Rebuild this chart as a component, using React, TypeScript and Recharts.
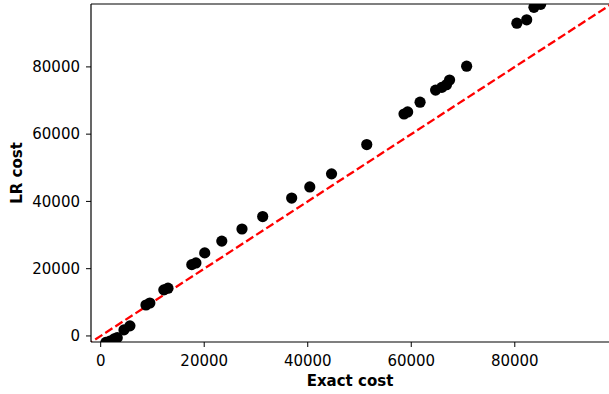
import React from 'react';
import {
  ScatterChart,
  Scatter,
  XAxis,
  YAxis,
  ReferenceLine,
} from 'recharts';

// Exact cost vs LR cost
const exactCost = [
  1000, 1800, 2600, 3200, 4500, 5650, 8750, 9500, 12200, 13000,
  17600, 18400, 20100, 23400, 27300, 31300, 36900, 40400, 44600, 51400,
  58600, 59300, 61700, 64700, 65900, 66800, 67400, 70700, 80400, 82300,
  83700, 85000,
];
const lrCost = [
  -1900, -1500, -900, -500, 1800, 3000, 9200, 9800, 13700, 14200,
  21200, 21700, 24700, 28200, 31800, 35500, 41000, 44300, 48200, 56900,
  66000, 66600, 69500, 73100, 73900, 74700, 76100, 80200, 93000, 94000,
  97700, 98600,
];

const xTicks = [0, 20000, 40000, 60000, 80000];
const yTicks = [0, 20000, 40000, 60000, 80000];
const xDomain = [-1870, 98200];
const yDomain = [-1800, 98700];
const diagLimits = [-3000, 100000];

const points = exactCost.map((x, i) => ({ x, y: lrCost[i] }));

const FONT = '"DejaVu Sans", sans-serif';
const tickStyle = { fontSize: 15, fill: '#000', fontFamily: FONT };

const Dot = (props: any) => <circle cx={props.cx} cy={props.cy} r={5.6} fill="#000" />;

const YLabel = (props: any) => {
  const vb = props.viewBox;
  const cx = 17;
  const cy = vb.y + vb.height / 2;
  return (
    <text
      x={cx}
      y={cy}
      transform={`rotate(-90, ${cx}, ${cy})`}
      textAnchor="middle"
      dominantBaseline="central"
      fontFamily={FONT}
      fontSize={15}
      fontWeight="bold"
      fill="#000"
    >
      LR cost
    </text>
  );
};

const XLabel = (props: any) => {
  const vb = props.viewBox;
  return (
    <text
      x={vb.x + vb.width / 2}
      y={381}
      textAnchor="middle"
      dominantBaseline="central"
      fontFamily={FONT}
      fontSize={15}
      fontWeight="bold"
      fill="#000"
    >
      Exact cost
    </text>
  );
};

export default function App() {
  return (
    <div
      style={{
        position: 'absolute',
        left: 0,
        top: 0,
        width: 609,
        height: 394,
        overflow: 'hidden',
        background: '#fff',
      }}
    >
      <ScatterChart width={609} height={394} margin={{ top: 4, right: 0, bottom: 0, left: 0 }}>
        <XAxis
          type="number"
          dataKey="x"
          domain={xDomain}
          ticks={xTicks}
          allowDataOverflow
          height={52}
          tickSize={5}
          tickMargin={8}
          tick={tickStyle}
          axisLine={{ stroke: '#000', strokeWidth: 1.2 }}
          tickLine={{ stroke: '#000' }}
          label={<XLabel />}
        />
        <YAxis
          type="number"
          dataKey="y"
          domain={yDomain}
          ticks={yTicks}
          allowDataOverflow
          width={91}
          tickSize={5}
          tickMargin={6}
          tick={tickStyle}
          axisLine={{ stroke: '#000', strokeWidth: 1.2 }}
          tickLine={{ stroke: '#000' }}
          label={<YLabel />}
        />
        <ReferenceLine y={yDomain[1]} stroke="#000" strokeWidth={1.2} ifOverflow="visible" />
        <ReferenceLine
          segment={[
            { x: diagLimits[0], y: diagLimits[0] },
            { x: diagLimits[1], y: diagLimits[1] },
          ]}
          ifOverflow="hidden"
          stroke="#ff0000"
          strokeWidth={2.3}
          strokeDasharray="8.5 3.5"
        />
        <Scatter data={points} shape={Dot} isAnimationActive={false} />
      </ScatterChart>
    </div>
  );
}
